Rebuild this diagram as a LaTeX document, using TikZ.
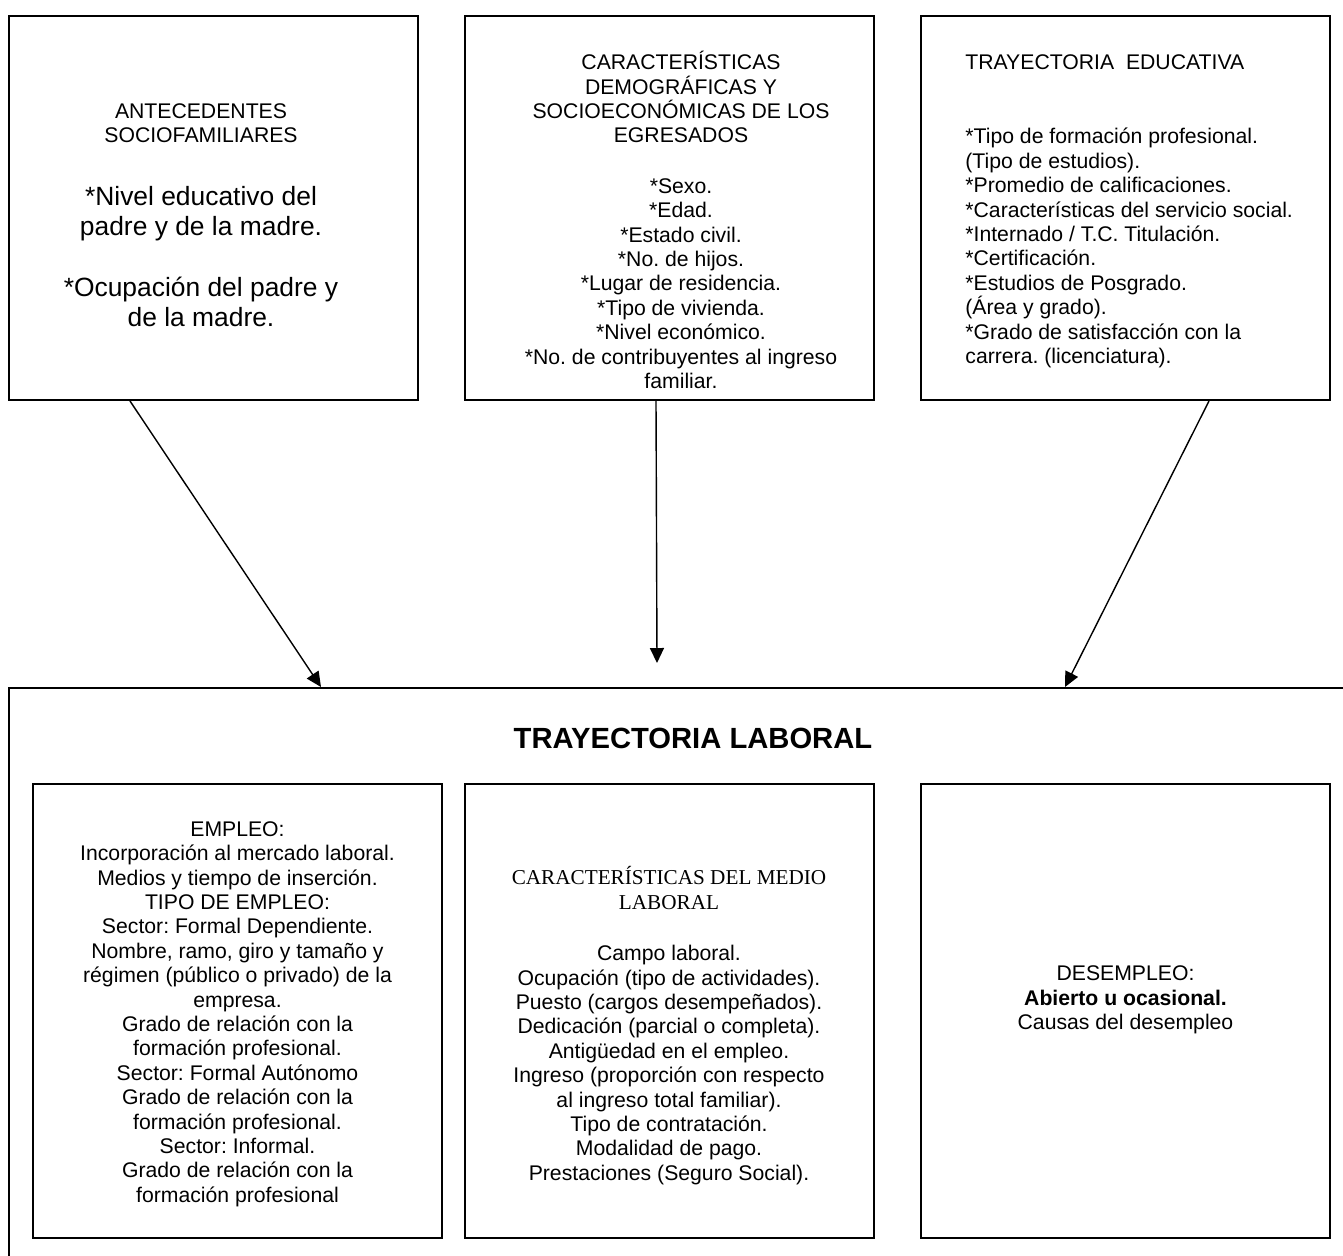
\documentclass[tikz,border=0pt]{standalone}
\usepackage{fontspec}
\setmainfont{Liberation Sans}
\newfontfamily\serifa{Liberation Serif}
\usetikzlibrary{arrows.meta,calc,positioning}
\frenchspacing

\begin{document}
\begin{tikzpicture}[x=0.5pt, y=-0.5pt,
				marco/.style = {draw, line width=1pt, inner sep=0pt, minimum width=204.5pt, minimum height=192pt},
				interior/.style = {marco, minimum height=225.5pt},
				texto/.style = {inner sep=0pt, align=center, font=\fontsize{10.6pt}{12.2pt}\selectfont},
				textogrande/.style = {inner sep=0pt, align=center, font=\fontsize{13.2pt}{15.2pt}\selectfont},
				flecha/.style = {line width=0.7pt, -{Triangle[length=7.5pt, width=7pt]}}]
				\useasboundingbox (0,0) rectangle (1343,1255);
				\clip (0,0) rectangle (1343,1255);
				\node (antecedentes) at (213.5, 208) [marco] {};
				\node (demograficas) at (669.5, 208) [marco] {};
				\node (educativa) at (1125.5, 208) [marco] {};
				\node (laboral) at (684.5, 979) [draw, line width=1pt, inner sep=0pt, minimum width=675.5pt, minimum height=291pt] {};
				\node (empleo) at (237.5, 1011) [interior, minimum height=227pt] {};
				\node (medio) at (669.5, 1011) [interior, minimum height=227pt] {};
				\node (desempleo) at (1125.5, 1011) [interior, minimum height=227pt] {};
				\node (antTit) at (201, 123) [texto] {ANTECEDENTES\\SOCIOFAMILIARES};
				\node (antTxt) at (201, 256.5) [textogrande] {*Nivel educativo del\\padre y de la madre.\\[15.2pt]{}*Ocupación del padre y\\de la madre.};
				\node (demTxt) at (681, 220) [texto] {CARACTERÍSTICAS\\DEMOGRÁFICAS Y\\SOCIOECONÓMICAS DE LOS\\EGRESADOS\\[13pt]{}*Sexo.\\{}*Edad.\\{}*Estado civil.\\{}*No. de hijos.\\{}*Lugar de residencia.\\{}*Tipo de vivienda.\\{}*Nivel económico.\\{}*No. de contribuyentes al ingreso\\familiar.};
				\node (eduTit) at (965, 62.5) [texto, anchor=west] {TRAYECTORIA\ \ EDUCATIVA};
				\node (eduTxt) at (965, 248) [texto, anchor=west, align=left] {*Tipo de formación profesional.\\(Tipo de estudios).\\{}*Promedio de calificaciones.\\{}*Características del servicio social.\\{}*Internado / T.C. Titulación.\\{}*Certificación.\\{}*Estudios de Posgrado.\\(Área y grado).\\{}*Grado de satisfacción con la\\carrera. (licenciatura).};
				\node (labTit) at (693, 738.5) [inner sep=0pt, font=\fontsize{14.6pt}{17pt}\selectfont\bfseries] {TRAYECTORIA LABORAL};
				\node (empTxt) at (237.5, 1014) [texto] {EMPLEO:\\Incorporación al mercado laboral.\\Medios y tiempo de inserción.\\TIPO DE EMPLEO:\\Sector: Formal Dependiente.\\Nombre, ramo, giro y tamaño y\\régimen (público o privado) de la\\empresa.\\Grado de relación con la\\formación profesional.\\Sector: Formal Autónomo\\Grado de relación con la\\formación profesional.\\Sector: Informal.\\Grado de relación con la\\formación profesional};
				\node (medTit) at (669, 888) [texto, font=\fontsize{10.6pt}{12.2pt}\selectfont\serifa] {CARACTERÍSTICAS DEL MEDIO\\LABORAL};
				\node (medTxt) at (669, 1065) [texto] {Campo laboral.\\Ocupación (tipo de actividades).\\Puesto (cargos desempeñados).\\Dedicación (parcial o completa).\\Antigüedad en el empleo.\\Ingreso (proporción con respecto\\al ingreso total familiar).\\Tipo de contratación.\\Modalidad de pago.\\Prestaciones (Seguro Social).};
				\node (desTxt) at (1125.5, 1000) [texto] {DESEMPLEO:\\\textbf{Abierto u ocasional.}\\Causas del desempleo};
				\coordinate (punta) at (657, 663);
				\draw[flecha] ($(antecedentes.south west)+(122,0)$) -- ($(laboral.north west)+(313,0)$);
				\draw[flecha] ($(demograficas.south west)+(192,0)$) -- (punta);
				\draw[flecha] ($(educativa.south west)+(289,0)$) -- ($(laboral.north west)+(1057,0)$);
				\end{tikzpicture}
\end{document}
